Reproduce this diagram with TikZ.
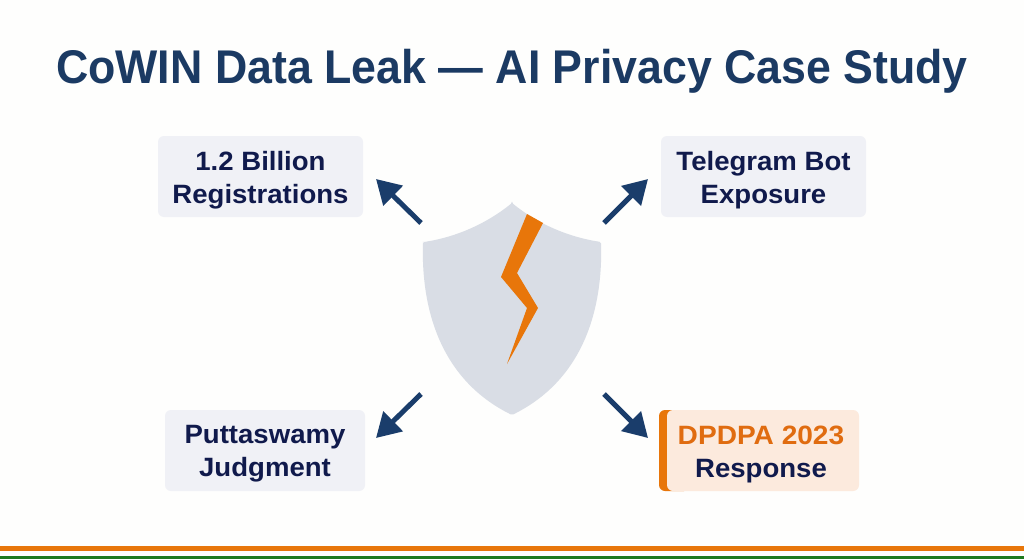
\documentclass[tikz,border=0pt]{standalone}
\usepackage{fontspec}
\setmainfont{Liberation Sans}[BoldFont=Liberation Sans Bold]
\newfontfamily\titlefont[FakeStretch=0.945]{Liberation Sans Bold}
\newfontfamily\boxfont[FakeStretch=1.04]{Liberation Sans Bold}
\newfontfamily\dpfont[FakeStretch=1.06]{Liberation Sans Bold}
\usetikzlibrary{arrows.meta}
\definecolor{titleblue}{HTML}{1B3A63}
\definecolor{inkblue}{HTML}{101A4C}
\definecolor{boxgrey}{HTML}{F0F1F6}
\definecolor{shieldgrey}{HTML}{D9DDE5}
\definecolor{crackorange}{HTML}{E8760A}
\definecolor{dporange}{HTML}{E06C10}
\definecolor{peach}{HTML}{FCEADD}
\definecolor{arrowblue}{HTML}{1A3D6B}
\definecolor{flaggreen}{HTML}{1E7A1E}
\definecolor{paper}{HTML}{FEFEFD}
\tikzset{
  x=1pt,y=-1pt,
  infobox/.style={fill=boxgrey,rounded corners=6pt,inner sep=0pt,minimum width=#1,minimum height=81pt,
    text=inkblue},
  boxtext/.style={inner sep=0pt,align=center,text=inkblue,font=\fontsize{26.5}{33}\selectfont\boxfont},
  pointer/.style={draw=arrowblue,line width=5pt,-{Triangle[length=24pt,width=27pt]}}
}
\begin{document}
\begin{tikzpicture}
\useasboundingbox (0,0) rectangle (1024,559);
\fill[paper] (0,0) rectangle (1024,559);
\node[text=titleblue,font=\fontsize{47.3}{50}\selectfont\titlefont,inner sep=0pt,anchor=base] (title) at (512,83.5) {CoWIN Data Leak — AI Privacy Case Study};
\node[infobox=205pt] (regbox) at (260.5,176.5) {};
\node[boxtext] (reg) at (260.5,180) {1.2 Billion\\Registrations};
\node[infobox=205pt] (telebox) at (763.5,176.5) {};
\node[boxtext] (tele) at (763.5,180) {Telegram Bot\\Exposure};
\node[infobox=200pt] (puttbox) at (265,450.5) {};
\node[boxtext] (putt) at (265,454) {Puttaswamy\\Judgment};
\fill[crackorange,rounded corners=6pt] (659,410) rectangle (690,491);
\fill[peach,rounded corners=6pt] (667,410) rectangle (859,491);
\node[boxtext] (dpdpa) at (761,454) {{\dpfont\textcolor{dporange}{DPDPA 2023}}\\Response};
\fill[shieldgrey,rounded corners=1.5pt] (512,203) .. controls (486,224) and (456,237) .. (424,242)
  -- (423,242) .. controls (421,310) and (441,380) .. (512,415)
  .. controls (583,380) and (603,310) .. (601,242) .. controls (568,237) and (538,224) .. (512,203) -- cycle;
\fill[crackorange] (527,214) -- (543,223) -- (517,273) -- (538,308) -- (507,364) -- (527,308) -- (501,277) -- cycle;
\coordinate (tl) at (421,223); \coordinate (tlh) at (376,179);
\coordinate (tr) at (604,223); \coordinate (trh) at (648,179);
\coordinate (bl) at (421,394); \coordinate (blh) at (376,438);
\coordinate (br) at (604,394); \coordinate (brh) at (648,438);
\draw[pointer] (tl) -- (tlh);
\draw[pointer] (tr) -- (trh);
\draw[pointer] (bl) -- (blh);
\draw[pointer] (br) -- (brh);
\fill[crackorange] (0,545.5) rectangle (1024,550.5);
\fill[flaggreen] (0,555.5) rectangle (1024,559);
\end{tikzpicture}
\end{document}
